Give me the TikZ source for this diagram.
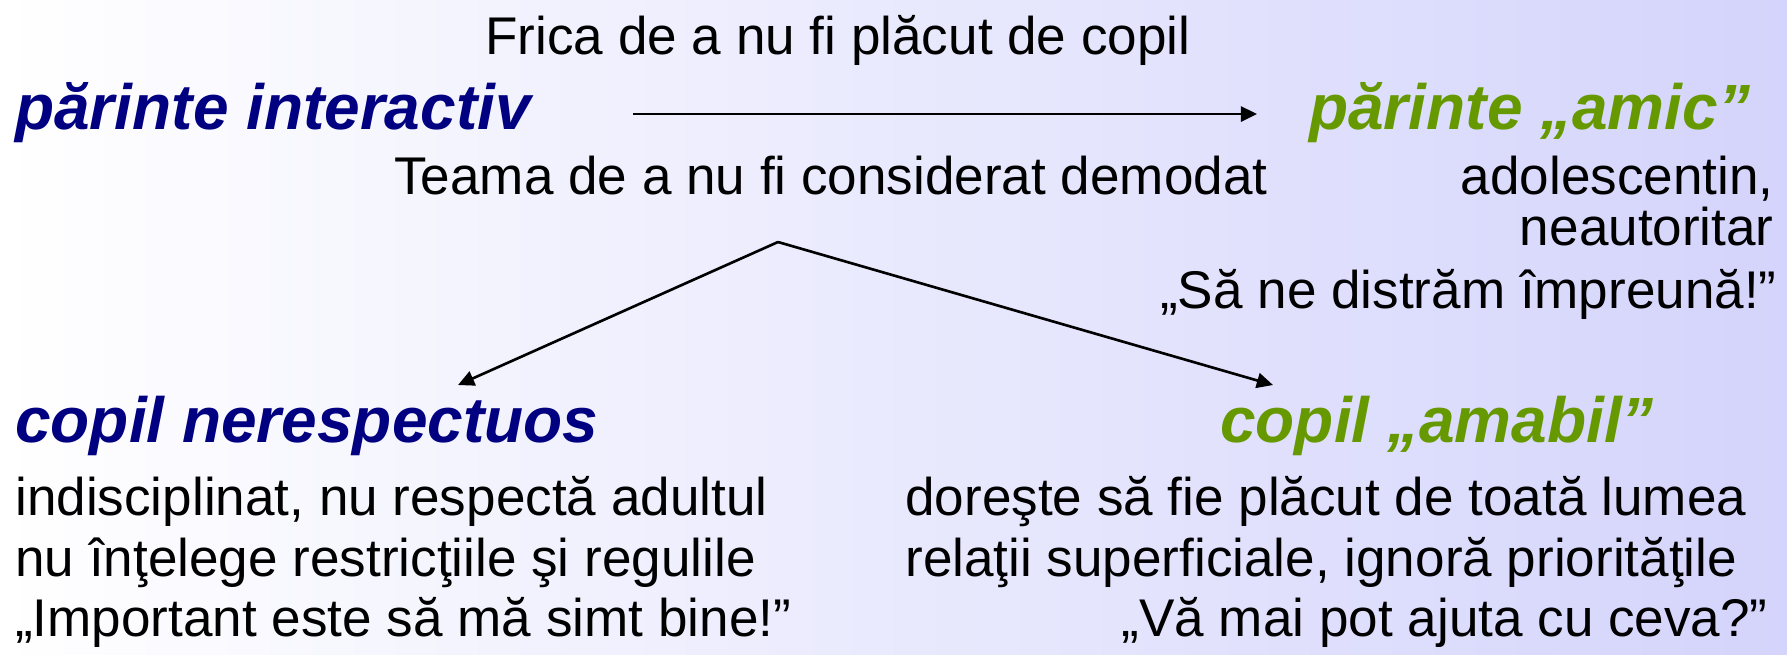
\documentclass[tikz,border=0pt]{standalone}
\usepackage{fontspec}
\setmainfont{Liberation Sans}
\usetikzlibrary{arrows.meta,positioning}
\definecolor{headblue}{RGB}{0,0,128}
\definecolor{headgreen}{RGB}{102,153,0}
\definecolor{bgright}{RGB}{212,212,252}
\tikzset{
    heading/.style={inner sep=0pt, font=\fontsize{18.2pt}{22pt}\selectfont\bfseries\itshape},
    body/.style={inner sep=0pt, font=\fontsize{15.1pt}{18pt}\selectfont},
}
\begin{document}
\begin{tikzpicture}[>={Triangle[length=4.6pt,width=4.3pt]}, line width=0.75pt]
                \useasboundingbox (0,0) rectangle (17.87,-6.54);
                \shade[left color=white, right color=bgright] (0,0) rectangle (17.87,-6.54);

                % parents
                \node[body, anchor=base](fear_child) at (8.38,-0.54) {Frica de a nu fi plăcut de copil};
                \node[heading, headblue, anchor=base west](interactive_parent) at (0.14,-1.29) {părinte interactiv};
                \node[heading, headgreen, anchor=base west](friend_parent) at (13.08,-1.29) {părinte „amic”};
                \node[body, anchor=base west](fear_old) at (3.93,-1.94) {Teama de a nu fi considerat demodat};
                \node[body, anchor=base east](friend_line1) at (17.75,-1.94) {adolescentin,};
                \node[body, anchor=base east](friend_line2) at (17.75,-2.45) {neautoritar};
                \node[body, anchor=base east](friend_quote) at (17.78,-3.08) {„Să ne distrăm împreună!”};

                % children
                \node[heading, headblue, anchor=base west](rude_child) at (0.14,-4.42) {copil nerespectuos};
                \node[body, anchor=base west](rude_line1) at (0.14,-5.15) {indisciplinat, nu respectă adultul};
                \node[body, anchor=base west](rude_line2) at (0.14,-5.76) {nu înţelege restricţiile şi regulile};
                \node[body, anchor=base west](rude_quote) at (0.14,-6.36) {„Important este să mă simt bine!”};
                \node[heading, headgreen, anchor=base west](kind_child) at (12.19,-4.42) {copil „amabil”};
                \node[body, anchor=base west](kind_line1) at (9.04,-5.15) {doreşte să fie plăcut de toată lumea};
                \node[body, anchor=base west](kind_line2) at (9.04,-5.76) {relaţii superficiale, ignoră priorităţile};
                \node[body, anchor=base east](kind_quote) at (17.69,-6.36) {„Vă mai pot ajuta cu ceva?”};

                \coordinate (top_start) at (6.33,-1.14);
                \coordinate (top_end) at (12.57,-1.14);
                \coordinate (split) at (7.78,-2.42);
                \coordinate (rude_tip) at (4.58,-3.85);
                \coordinate (kind_tip) at (12.73,-3.85);

                \draw[->] (top_start) -- (top_end);
                \draw[->] (split) -- (rude_tip);
                \draw[->] (split) -- (kind_tip);
            \end{tikzpicture}
\end{document}
